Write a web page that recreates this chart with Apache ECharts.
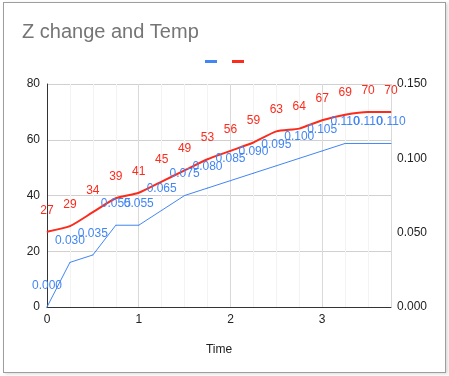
<!DOCTYPE html>
<html>
<head>
<meta charset="utf-8">
<script src="https://cdn.jsdelivr.net/npm/echarts@6/dist/echarts.min.js"></script>
<style>
  html, body { margin: 0; padding: 0; background: #fff; }
  #main { position: absolute; left: 0; top: 0; width: 449px; height: 376px; }
  #frame { position: absolute; left: 3px; top: 2px; width: 441px; height: 369px;
           border: 1px solid #9e9e9e; box-shadow: 2px 1px 3px rgba(0,0,0,0.15); pointer-events: none; }
</style>
</head>
<body>
<div id="main"></div>
<div id="frame"></div>
<script>
// data
var times = [0, 0.25, 0.5, 0.75, 1, 1.25, 1.5, 1.75, 2, 2.25, 2.5, 2.75, 3, 3.25, 3.5, 3.75];
var zChange = [0.000, 0.030, 0.035, 0.055, 0.055, 0.065, 0.075, 0.080, 0.085, 0.090, 0.095, 0.100, 0.105, 0.110, 0.110, 0.110];
var temp = [27, 29, 34, 39, 41, 45, 49, 53, 56, 59, 63, 64, 67, 69, 70, 70];

var blue = '#4285f4';
var red = '#fb2b1d';
var font = 'Arial, "Liberation Sans", sans-serif';

function pairs(xs, ys) {
    var out = [];
    for (var i = 0; i < xs.length; i++) out.push([xs[i], ys[i]]);
    return out;
}

var myChart = echarts.init(document.getElementById('main'));

var option = {
    animation: false,
    textStyle: { fontFamily: font },
    title: {
        text: 'Z change and Temp',
        left: 17, top: 17,
        textStyle: { fontFamily: font, fontSize: 20, fontWeight: 'normal', color: '#757575' }
    },
    legend: {
        top: 55, left: 'center',
        icon: 'rect', itemWidth: 12, itemHeight: 3, itemGap: 15,
        formatter: function() { return ''; },
        data: ['Z change', 'Temp']
    },
    grid: { left: 47, right: 58, top: 84, bottom: 69, containLabel: false },
    xAxis: {
        type: 'value', min: 0, max: 3.75, interval: 1,
        name: 'Time', nameLocation: 'middle', nameGap: 37,
        nameTextStyle: { color: '#222', fontSize: 12, fontFamily: font },
        axisLine: { lineStyle: { color: '#333', width: 1 } },
        axisTick: { show: false },
        axisLabel: { color: '#222', fontSize: 12, margin: 7, showMaxLabel: false },
        splitLine: { show: true, lineStyle: { color: '#d9d9d9' } },
        minorTick: { show: false, splitNumber: 4 },
        minorSplitLine: { show: true, lineStyle: { color: '#f3f3f3' } }
    },
    yAxis: [{
        type: 'value', min: 0, max: 80, interval: 20,
        axisLine: { show: true, lineStyle: { color: '#333' } },
        axisTick: { show: false },
        axisLabel: { color: '#222', fontSize: 12, margin: 7 },
        splitLine: { lineStyle: { color: '#d0d0d0' } }
    }, {
        type: 'value', min: 0, max: 0.15, interval: 0.05,
        axisLine: { show: false },
        axisTick: { show: false },
        axisLabel: { color: '#222', fontSize: 12, margin: 6,
            formatter: function(v) { return v.toFixed(3); } },
        splitLine: { show: false }
    }],
    series: [{
        name: 'Z change',
        type: 'line',
        yAxisIndex: 1,
        data: pairs(times, zChange),
        symbol: 'circle', symbolSize: 1,
        itemStyle: { color: blue },
        lineStyle: { color: blue, width: 1 },
        label: {
            show: true, position: 'top', distance: 15,
            color: blue, fontSize: 12, fontFamily: font,
            formatter: function(p) { return p.value[1].toFixed(3); }
        },
        z: 3
    }, {
        name: 'Temp',
        type: 'line',
        yAxisIndex: 0,
        data: pairs(times, temp),
        smooth: 0.2,
        symbol: 'circle', symbolSize: 1,
        itemStyle: { color: red },
        lineStyle: { color: red, width: 2 },
        label: {
            show: true, position: 'top', distance: 15,
            color: red, fontSize: 12, fontFamily: font,
            formatter: function(p) { return p.value[1]; }
        },
        z: 2
    }]
};

myChart.setOption(option);
</script>
</body>
</html>
